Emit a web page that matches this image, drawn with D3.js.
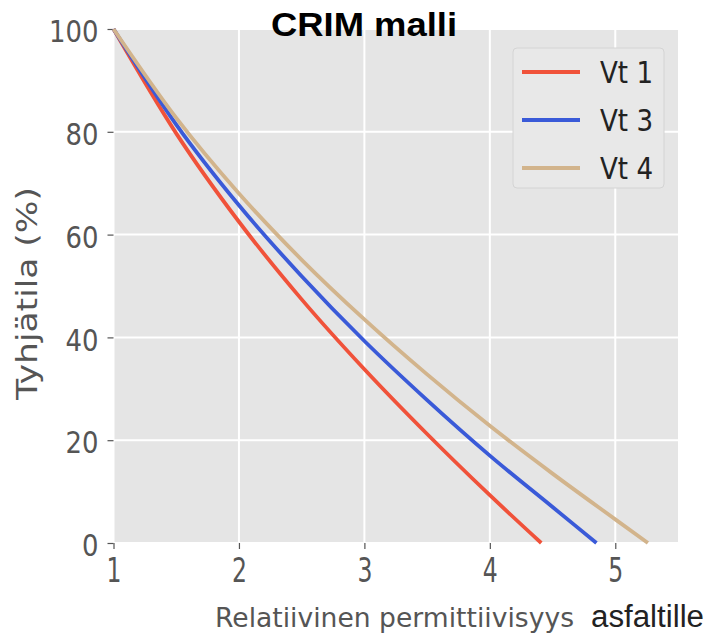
<!DOCTYPE html>
<html>
<head>
<meta charset="utf-8">
<script src="https://cdn.jsdelivr.net/npm/d3@7"></script>
<style>
  body { margin: 0; background: #fff; }
  svg { display: block; }
</style>
</head>
<body>
<div id="chart"></div>
<script>
// data
const xVt1 = [1, 1.5, 2, 2.5, 3, 3.5, 4, 4.41]
const yVt1 = [100, 79.7, 62.5, 47.4, 33.8, 21.2, 9.3, 0]
const xVt3 = [1, 1.5, 2, 2.5, 3, 3.5, 4, 4.5, 4.85]
const yVt3 = [100, 81.4, 65.7, 51.9, 39.3, 27.8, 17.0, 7.0, 0]
const xVt4 = [1, 1.5, 2, 2.5, 3, 3.5, 4, 4.5, 5, 5.26]
const yVt4 = [100, 82.7, 68.0, 55.1, 43.5, 32.8, 22.8, 13.5, 4.6, 0]
const seriesNames = ["Vt 1", "Vt 3", "Vt 4"]
const seriesColors = ["#f0523a", "#3a5ad8", "#d2b48c"]
const xTicks = [1, 2, 3, 4, 5]
const yTicks = [0, 20, 40, 60, 80, 100]

const width = 708, height = 634
const plotLeft = 113.5, plotRight = 678, plotTop = 29, plotBottom = 543

const svg = d3.select("#chart").append("svg")
  .attr("width", width)
  .attr("height", height)

const x = d3.scaleLinear().domain([1, 5.5]).range([plotLeft, plotRight])
const y = d3.scaleLinear().domain([0, 100]).range([plotBottom, plotTop])

// plot background
svg.append("rect")
  .attr("x", plotLeft).attr("y", plotTop)
  .attr("width", plotRight - plotLeft).attr("height", plotBottom - plotTop)
  .attr("fill", "#e5e5e5")

// grid
svg.append("g").selectAll("line")
  .data(xTicks)
  .enter().append("line")
  .attr("x1", d => x(d)).attr("x2", d => x(d))
  .attr("y1", plotTop).attr("y2", plotBottom)
  .attr("stroke", "#fff").attr("stroke-width", 2)

svg.append("g").selectAll("line")
  .data(yTicks)
  .enter().append("line")
  .attr("x1", plotLeft).attr("x2", plotRight)
  .attr("y1", d => y(d)).attr("y2", d => y(d))
  .attr("stroke", "#fff").attr("stroke-width", 2)

// axes (narrow, tall digits like the picture)
const xAxis = svg.append("g")
  .attr("transform", "translate(0," + plotBottom + ")")
  .call(d3.axisBottom(x).tickValues(xTicks).tickSize(6).tickPadding(10).tickFormat(d3.format("d")))
xAxis.select(".domain").remove()
xAxis.selectAll("line").attr("stroke", "#555").attr("stroke-width", 1.2)
xAxis.selectAll("text")
  .attr("fill", "#555")
  .attr("font-family", "DejaVu Sans")
  .attr("font-size", 33)
  .attr("textLength", 15)
  .attr("lengthAdjust", "spacingAndGlyphs")

const yAxis = svg.append("g")
  .attr("transform", "translate(" + plotLeft + ",0)")
  .call(d3.axisLeft(y).tickValues(yTicks).tickSize(6).tickPadding(9).tickFormat(d3.format("d")))
yAxis.select(".domain").remove()
yAxis.selectAll("line").attr("stroke", "#555").attr("stroke-width", 1.2)
yAxis.selectAll("text")
  .attr("fill", "#555")
  .attr("font-family", "DejaVu Sans")
  .attr("font-size", 30)
  .attr("dy", "0.42em")
  .attr("textLength", d => String(d).length * 16.5)
  .attr("lengthAdjust", "spacingAndGlyphs")

// lines
const series = [
  { xs: xVt1, ys: yVt1 },
  { xs: xVt3, ys: yVt3 },
  { xs: xVt4, ys: yVt4 }
]

const line = d3.line()
  .x(d => x(d[0]))
  .y(d => y(d[1]))
  .curve(d3.curveMonotoneX)

svg.append("g").selectAll("path")
  .data(series)
  .enter().append("path")
  .attr("d", s => line(s.xs.map((v, i) => [v, s.ys[i]])))
  .attr("fill", "none")
  .attr("stroke", (s, i) => seriesColors[i])
  .attr("stroke-width", 3.8)

// legend
const legend = svg.append("g")
legend.append("rect")
  .attr("x", 513).attr("y", 48)
  .attr("width", 151).attr("height", 140)
  .attr("rx", 4)
  .attr("fill", "#e8e8e8")
  .attr("stroke", "#d4d4d4")

const rows = legend.selectAll("g.row")
  .data(seriesNames)
  .enter().append("g")
  .attr("class", "row")
  .attr("transform", (d, i) => "translate(0," + (72 + i * 48) + ")")

rows.append("line")
  .attr("x1", 522).attr("x2", 580)
  .attr("stroke", (d, i) => seriesColors[i])
  .attr("stroke-width", 3.8)

rows.append("text")
  .attr("x", 600).attr("y", 11)
  .attr("font-family", "DejaVu Sans")
  .attr("font-size", 30)
  .attr("fill", "#222")
  .attr("textLength", 53)
  .attr("lengthAdjust", "spacingAndGlyphs")
  .text(d => d)

// title
svg.append("text")
  .attr("x", 271).attr("y", 36)
  .attr("font-family", "Liberation Sans, Arial")
  .attr("font-weight", "bold")
  .attr("font-size", 34)
  .attr("textLength", 186)
  .attr("lengthAdjust", "spacingAndGlyphs")
  .text("CRIM malli")

// axis labels
svg.append("text")
  .attr("x", 215).attr("y", 627)
  .attr("font-family", "DejaVu Sans")
  .attr("font-size", 26.4)
  .attr("fill", "#555")
  .attr("textLength", 359)
  .attr("lengthAdjust", "spacingAndGlyphs")
  .text("Relatiivinen permittiivisyys")

svg.append("text")
  .attr("x", 591).attr("y", 627)
  .attr("font-family", "Liberation Sans, Arial")
  .attr("font-size", 31)
  .attr("fill", "#222")
  .attr("textLength", 113)
  .attr("lengthAdjust", "spacingAndGlyphs")
  .text("asfaltille")

svg.append("text")
  .attr("transform", "translate(37,400) rotate(-90)")
  .attr("font-family", "DejaVu Sans")
  .attr("font-size", 29)
  .attr("fill", "#555")
  .attr("textLength", 213)
  .attr("lengthAdjust", "spacingAndGlyphs")
  .text("Tyhjätila (%)")
</script>
</body>
</html>
